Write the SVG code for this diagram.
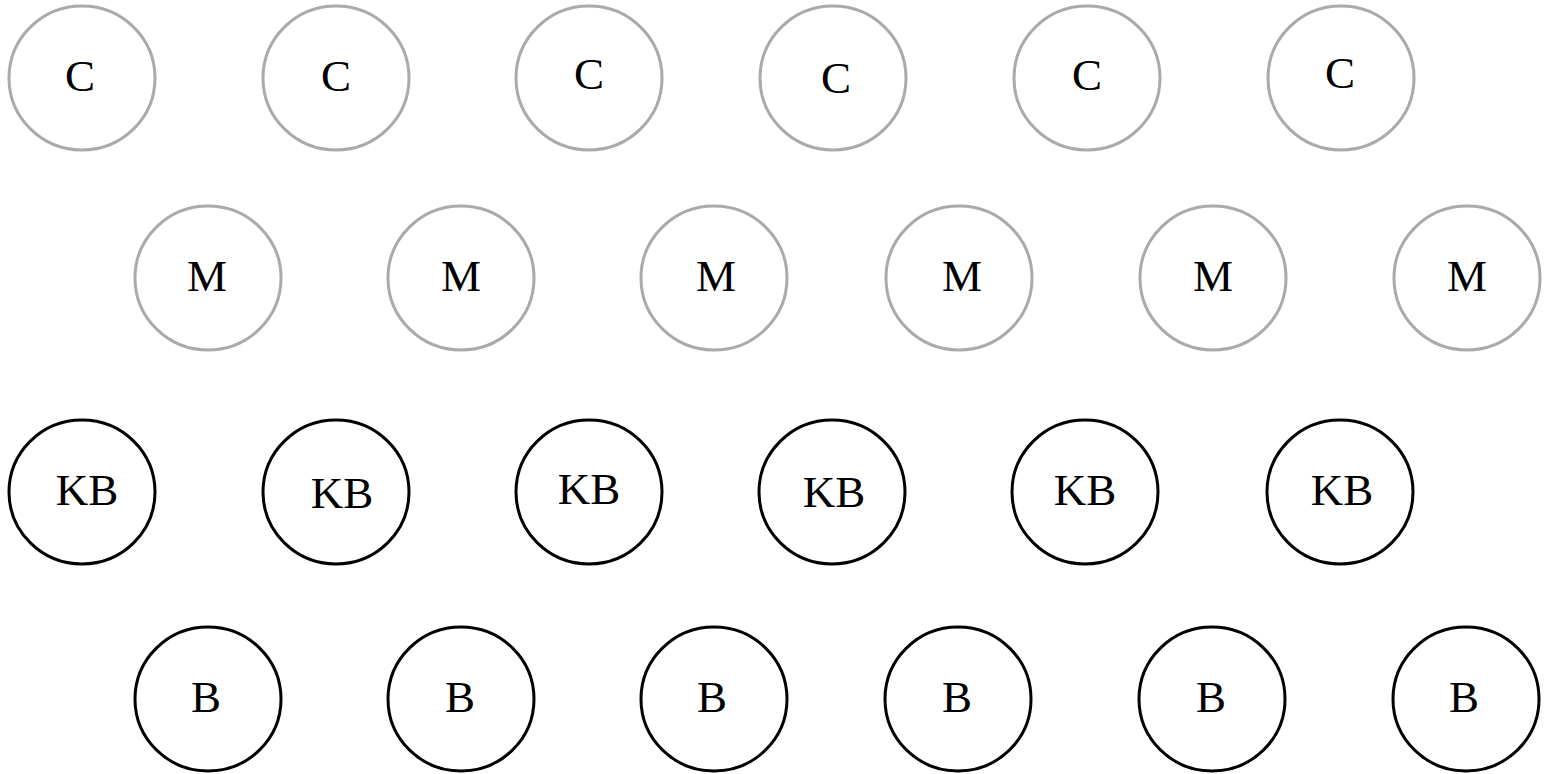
<svg xmlns="http://www.w3.org/2000/svg" width="1552" height="774" viewBox="0 0 1552 774">
<style>
.g ellipse{fill:#fff;stroke:#aaaaaa;stroke-width:3}
.k ellipse{fill:#fff;stroke:#000;stroke-width:3}
text{font-family:"Liberation Serif","Times New Roman",serif;font-size:45px;fill:#000;text-anchor:middle}
</style>
<rect width="1552" height="774" fill="#fff"/>
<g id="connectors"/>
<g class="g">
<g id="c1"><ellipse cx="82" cy="78" rx="73" ry="72"/><text x="80" y="91">C</text></g>
<g id="c2"><ellipse cx="336" cy="78" rx="73" ry="72"/><text x="336" y="91">C</text></g>
<g id="c3"><ellipse cx="589" cy="78" rx="73" ry="72"/><text x="589" y="89">C</text></g>
<g id="c4"><ellipse cx="833" cy="78" rx="73" ry="72"/><text x="836" y="93">C</text></g>
<g id="c5"><ellipse cx="1087" cy="78" rx="73" ry="72"/><text x="1087" y="90">C</text></g>
<g id="c6"><ellipse cx="1341" cy="78" rx="73" ry="72"/><text x="1340" y="88">C</text></g>
<g id="m1"><ellipse cx="208" cy="278" rx="73" ry="72"/><text x="207" y="291">M</text></g>
<g id="m2"><ellipse cx="461" cy="278" rx="73" ry="72"/><text x="461" y="291">M</text></g>
<g id="m3"><ellipse cx="714" cy="278" rx="73" ry="72"/><text x="716" y="291">M</text></g>
<g id="m4"><ellipse cx="959" cy="278" rx="73" ry="72"/><text x="962" y="291">M</text></g>
<g id="m5"><ellipse cx="1213" cy="278" rx="73" ry="72"/><text x="1213" y="291">M</text></g>
<g id="m6"><ellipse cx="1467" cy="278" rx="73" ry="72"/><text x="1467" y="291">M</text></g>
</g>
<g class="k">
<g id="kb1"><ellipse cx="82" cy="492" rx="73" ry="72"/><text x="87" y="505">KB</text></g>
<g id="kb2"><ellipse cx="336" cy="492" rx="73" ry="72"/><text x="342" y="508">KB</text></g>
<g id="kb3"><ellipse cx="589" cy="492" rx="73" ry="72"/><text x="589" y="504">KB</text></g>
<g id="kb4"><ellipse cx="832" cy="492" rx="73" ry="72"/><text x="834" y="507">KB</text></g>
<g id="kb5"><ellipse cx="1085" cy="492" rx="73" ry="72"/><text x="1085" y="505">KB</text></g>
<g id="kb6"><ellipse cx="1340" cy="492" rx="73" ry="72"/><text x="1342" y="505">KB</text></g>
<g id="b1"><ellipse cx="208" cy="699" rx="73" ry="72"/><text x="206" y="712">B</text></g>
<g id="b2"><ellipse cx="461" cy="699" rx="73" ry="72"/><text x="460" y="712">B</text></g>
<g id="b3"><ellipse cx="714" cy="699" rx="73" ry="72"/><text x="712" y="712">B</text></g>
<g id="b4"><ellipse cx="958" cy="699" rx="73" ry="72"/><text x="957" y="712">B</text></g>
<g id="b5"><ellipse cx="1212" cy="699" rx="73" ry="72"/><text x="1211" y="712">B</text></g>
<g id="b6"><ellipse cx="1466" cy="699" rx="73" ry="72"/><text x="1464" y="712">B</text></g>
</g>
</svg>
